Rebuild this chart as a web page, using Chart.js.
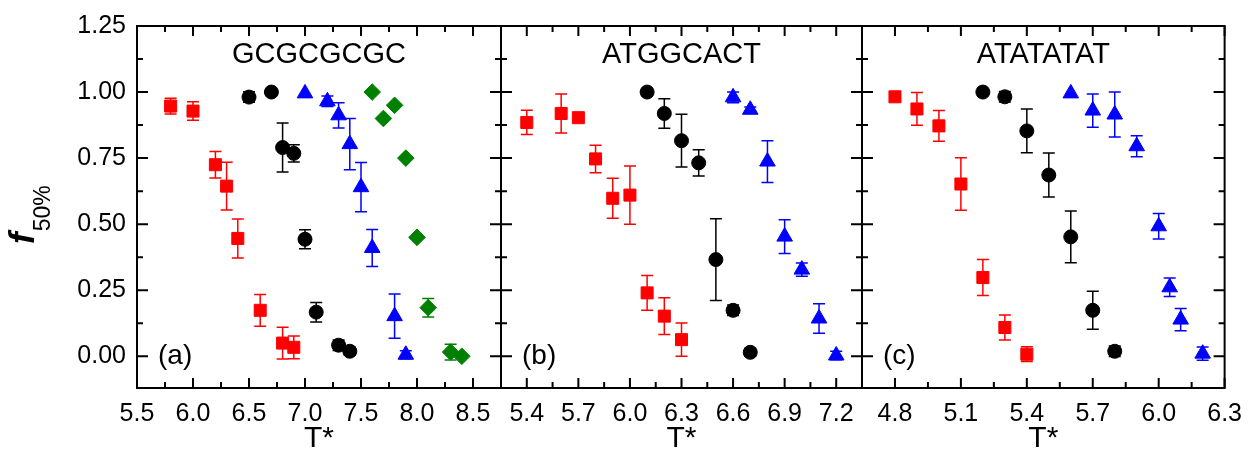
<!DOCTYPE html>
<html>
<head>
<meta charset="utf-8">
<script src="https://cdn.jsdelivr.net/npm/chart.js@4.4.1/dist/chart.umd.min.js"></script>
<style>
  html, body { margin: 0; padding: 0; background: #fff; }
  #wrap { position: relative; width: 1253px; height: 460px; overflow: hidden; }
  #wrap canvas { position: absolute; top: 0; }
</style>
</head>
<body>
<div id="wrap">
  <canvas id="panelA" width="503" height="460" style="left:0px"></canvas>
  <canvas id="panelB" width="368" height="460" style="left:497px"></canvas>
  <canvas id="panelC" width="395" height="460" style="left:858px"></canvas>
</div>
<script>
// shared y ticks
const yTicks = [0, 0.25, 0.5, 0.75, 1.0, 1.25];

// (a) GCGCGCGC
const xTicksA = [5.5, 6.0, 6.5, 7.0, 7.5, 8.0, 8.5];
const aRedT = [5.8, 6.0, 6.2, 6.3, 6.4, 6.6, 6.8, 6.9];
const aRedF = [0.947, 0.928, 0.725, 0.644, 0.446, 0.174, 0.05, 0.034];
const aRedErr = [0.03, 0.035, 0.05, 0.09, 0.074, 0.06, 0.06, 0.043];
const aBlackT = [6.5, 6.7, 6.8, 6.9, 7.0, 7.1, 7.3, 7.4];
const aBlackF = [0.981, 1.0, 0.79, 0.768, 0.443, 0.167, 0.042, 0.019];
const aBlackErr = [0.02, 0, 0.093, 0.033, 0.036, 0.037, 0.02, 0.015];
const aBlueT = [7.0, 7.2, 7.3, 7.4, 7.5, 7.6, 7.8, 7.9];
const aBlueF = [0.995, 0.965, 0.912, 0.803, 0.64, 0.41, 0.152, 0.006];
const aBlueErr = [0, 0.02, 0.048, 0.097, 0.093, 0.07, 0.084, 0.015];
const aGreenT = [7.6, 7.7, 7.8, 7.9, 8.0, 8.1, 8.3, 8.4];
const aGreenF = [1.0, 0.9, 0.95, 0.75, 0.45, 0.184, 0.016, 0.0];
const aGreenErr = [0, 0, 0, 0, 0, 0.035, 0.03, 0];

// (b) ATGGCACT
const xTicksB = [5.4, 5.7, 6.0, 6.3, 6.6, 6.9, 7.2];
const bRedT = [5.4, 5.6, 5.7, 5.8, 5.9, 6.0, 6.1, 6.2, 6.3];
const bRedF = [0.885, 0.919, 0.903, 0.747, 0.598, 0.61, 0.24, 0.152, 0.063];
const bRedErr = [0.046, 0.074, 0.01, 0.052, 0.076, 0.11, 0.066, 0.07, 0.063];
const bBlackT = [6.1, 6.2, 6.3, 6.4, 6.5, 6.6, 6.7];
const bBlackF = [1.0, 0.919, 0.816, 0.732, 0.366, 0.174, 0.015];
const bBlackErr = [0, 0.056, 0.10, 0.05, 0.155, 0.02, 0.015];
const bBlueT = [6.6, 6.7, 6.8, 6.9, 7.0, 7.1, 7.2];
const bBlueF = [0.98, 0.933, 0.737, 0.453, 0.328, 0.143, 0.003];
const bBlueErr = [0.02, 0.01, 0.079, 0.064, 0.025, 0.056, 0.016];

// (c) ATATATAT
const xTicksC = [4.8, 5.1, 5.4, 5.7, 6.0, 6.3];
const cRedT = [4.8, 4.9, 5.0, 5.1, 5.2, 5.3, 5.4];
const cRedF = [0.982, 0.936, 0.872, 0.652, 0.298, 0.109, 0.008];
const cRedErr = [0.015, 0.062, 0.058, 0.099, 0.068, 0.047, 0.028];
const cBlackT = [5.2, 5.3, 5.4, 5.5, 5.6, 5.7, 5.8];
const cBlackF = [1.0, 0.982, 0.853, 0.686, 0.452, 0.174, 0.019];
const cBlackErr = [0, 0.02, 0.083, 0.083, 0.098, 0.072, 0.02];
const cBlueT = [5.6, 5.7, 5.8, 5.9, 6.0, 6.05, 6.1, 6.2];
const cBlueF = [0.995, 0.93, 0.915, 0.795, 0.492, 0.261, 0.139, 0.01];
const cBlueErr = [0, 0.063, 0.085, 0.04, 0.048, 0.035, 0.042, 0.025];

const FONT = "'Liberation Sans', Arial, sans-serif";
const RED = '#ff0000', BLACK = '#000000', BLUE = '#0000ff', GREEN = '#008000';

function pts(xs, ys) {
    return xs.map((x, i) => ({ x: x, y: ys[i] }));
}

function series(label, xs, ys, errs, color, style, radius) {
    return {
        label: label,
        data: pts(xs, ys),
        errors: errs,
        backgroundColor: color,
        borderColor: color,
        pointStyle: style,
        pointRadius: radius,
        pointHoverRadius: radius,
        pointBorderWidth: 1
    };
}

// vertical error bars with caps
const errorBars = {
    id: 'errorBars',
    beforeDatasetsDraw(chart) {
        const ctx = chart.ctx;
        const ys = chart.scales.y;
        ctx.save();
        chart.data.datasets.forEach((ds, di) => {
            const meta = chart.getDatasetMeta(di);
            ctx.strokeStyle = ds.borderColor;
            ctx.lineWidth = 1.5;
            meta.data.forEach((el, i) => {
                const e = ds.errors ? ds.errors[i] : 0;
                if (!e) return;
                const v = ds.data[i].y;
                const top = ys.getPixelForValue(v + e);
                const bot = ys.getPixelForValue(v - e);
                const x = el.x;
                ctx.beginPath();
                ctx.moveTo(x, top); ctx.lineTo(x, bot);
                ctx.moveTo(x - 6, top); ctx.lineTo(x + 6, top);
                ctx.moveTo(x - 6, bot); ctx.lineTo(x + 6, bot);
                ctx.stroke();
            });
        });
        ctx.restore();
    }
};

function withMinors(scale) {
    const majors = scale.ticks.map(t => t.value);
    const step = majors[1] - majors[0];
    const out = [];
    majors.forEach(v => out.push({ v: v, major: true }));
    for (let v = majors[0] - step / 2; v > scale.min + 1e-6; v -= step) out.push({ v: v, major: false });
    majors.forEach(v => {
        const m = v + step / 2;
        if (m < scale.max - 1e-6) out.push({ v: m, major: false });
    });
    return out;
}

// box frame with inward ticks on all four sides
const frame = {
    id: 'frame',
    afterDatasetsDraw(chart) {
        const ctx = chart.ctx;
        const a = chart.chartArea;
        ctx.save();
        ctx.strokeStyle = '#000';
        ctx.lineWidth = 2;
        ctx.beginPath();
        withMinors(chart.scales.x).forEach(t => {
            const px = chart.scales.x.getPixelForValue(t.v);
            const len = t.major ? 10 : 6;
            ctx.moveTo(px, a.bottom); ctx.lineTo(px, a.bottom - len);
            ctx.moveTo(px, a.top); ctx.lineTo(px, a.top + len);
        });
        withMinors(chart.scales.y).forEach(t => {
            const py = chart.scales.y.getPixelForValue(t.v);
            const len = t.major ? 11 : 6;
            ctx.moveTo(a.left, py); ctx.lineTo(a.left + len, py);
            ctx.moveTo(a.right, py); ctx.lineTo(a.right - len, py);
        });
        ctx.stroke();
        ctx.strokeRect(a.left, a.top, a.right - a.left, a.bottom - a.top);
        ctx.restore();
    }
};

// sequence title, panel tag and x title
const panelText = {
    id: 'panelText',
    afterDraw(chart, args, opts) {
        const ctx = chart.ctx;
        const a = chart.chartArea;
        const cx = (a.left + a.right) / 2;
        ctx.save();
        ctx.fillStyle = '#000';
        ctx.textAlign = 'center';
        ctx.textBaseline = 'middle';
        ctx.font = '29px ' + FONT;
        ctx.fillText(opts.title, cx, a.top + 29);
        ctx.font = '30px ' + FONT;
        ctx.fillText('T*', cx, 439);
        ctx.textAlign = 'left';
        ctx.font = '28px ' + FONT;
        ctx.fillText(opts.tag, a.left + 21, a.bottom - 32);
        if (opts.yTitle) {
            ctx.translate(34, 244);
            ctx.rotate(-Math.PI / 2);
            ctx.textBaseline = 'alphabetic';
            ctx.font = 'italic bold 35px ' + FONT;
            ctx.fillText('f', 0, 0);
            const w = ctx.measureText('f').width;
            ctx.font = '23px ' + FONT;
            ctx.fillText('50%', w + 1, 16);
        }
        ctx.restore();
    }
};

function makePanel(id, title, tag, xMin, xMax, xTicks, datasets, first, pad) {
    const tickFont = { family: FONT, size: 25 };
    new Chart(document.getElementById(id), {
        type: 'scatter',
        data: { datasets: datasets },
        plugins: [errorBars, frame, panelText],
        options: {
            responsive: false,
            animation: false,
            layout: { padding: pad, autoPadding: false },
            plugins: {
                legend: { display: false },
                tooltip: { enabled: false },
                panelText: { title: title, tag: tag, yTitle: first }
            },
            scales: {
                x: {
                    type: 'linear',
                    min: xMin,
                    max: xMax,
                    grid: { display: false, drawTicks: false, tickLength: 0 },
                    border: { display: false },
                    afterBuildTicks: s => { s.ticks = xTicks.map(v => ({ value: v })); },
                    afterFit: s => { s.height = 72; },
                    ticks: {
                        font: tickFont,
                        color: '#000',
                        padding: 11,
                        maxRotation: 0,
                        autoSkip: false,
                        callback: v => v.toFixed(1)
                    }
                },
                y: {
                    type: 'linear',
                    display: first,
                    min: -0.12,
                    max: 1.25,
                    grid: { display: false, drawTicks: false, tickLength: 0 },
                    border: { display: false },
                    afterBuildTicks: s => { s.ticks = yTicks.map(v => ({ value: v })); },
                    afterFit: s => { s.width = first ? 137 : 0; },
                    ticks: {
                        font: tickFont,
                        color: '#000',
                        padding: 11,
                        callback: v => v.toFixed(2)
                    }
                }
            }
        }
    });
}

makePanel('panelA', 'GCGCGCGC', '(a)', 5.5, 8.75, xTicksA, [
    series('red', aRedT, aRedF, aRedErr, RED, 'rect', 8.5),
    series('black', aBlackT, aBlackF, aBlackErr, BLACK, 'circle', 7),
    series('blue', aBlueT, aBlueF, aBlueErr, BLUE, 'triangle', 9),
    series('green', aGreenT, aGreenF, aGreenErr, GREEN, 'rectRot', 8.3)
], true, { top: 26, right: 2, left: 0, bottom: 0 });

makePanel('panelB', 'ATGGCACT', '(b)', 5.25, 7.35, xTicksB, [
    series('red', bRedT, bRedF, bRedErr, RED, 'rect', 8.5),
    series('black', bBlackT, bBlackF, bBlackErr, BLACK, 'circle', 7),
    series('blue', bBlueT, bBlueF, bBlueErr, BLUE, 'triangle', 9)
], false, { top: 26, right: 3, left: 4, bottom: 0 });

makePanel('panelC', 'ATATATAT', '(c)', 4.65, 6.3, xTicksC, [
    series('red', cRedT, cRedF, cRedErr, RED, 'rect', 8.5),
    series('black', cBlackT, cBlackF, cBlackErr, BLACK, 'circle', 7),
    series('blue', cBlueT, cBlueF, cBlueErr, BLUE, 'triangle', 9)
], false, { top: 26, right: 26, left: 4, bottom: 0 });
</script>
</body>
</html>
